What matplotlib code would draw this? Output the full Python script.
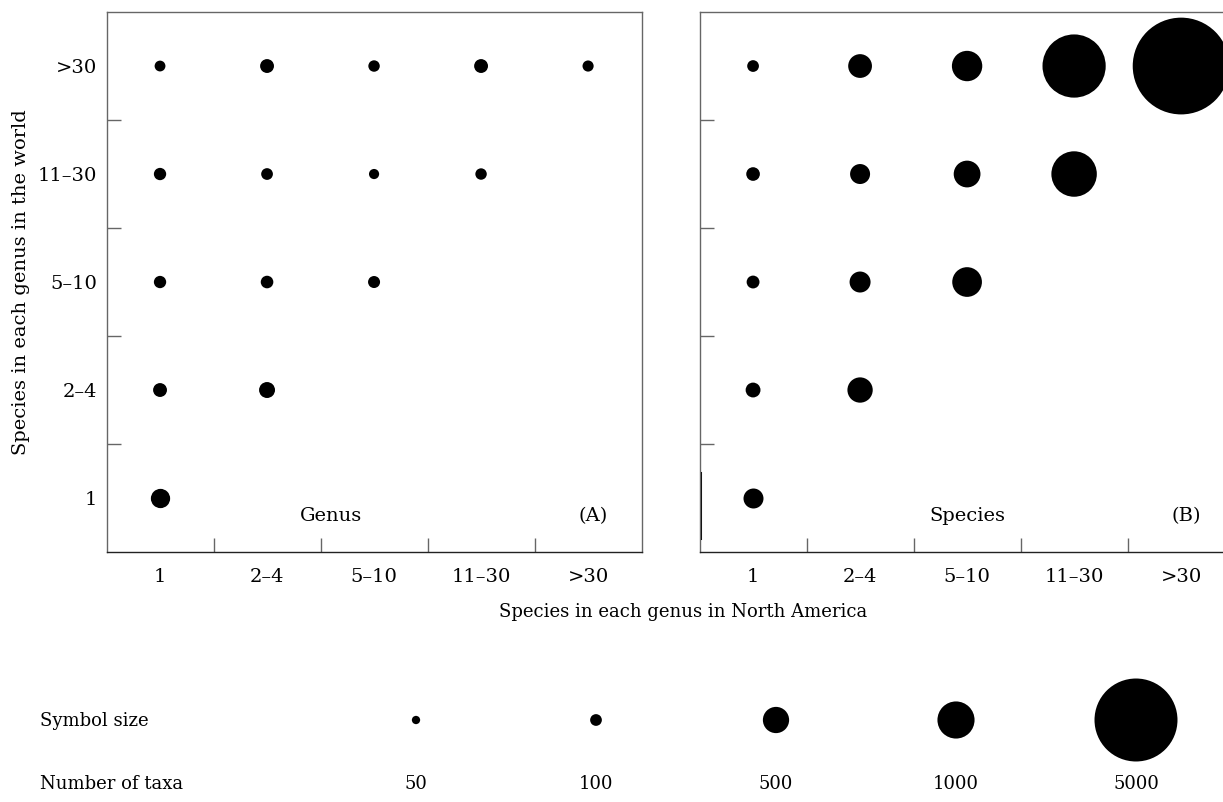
import numpy as np
import matplotlib
matplotlib.use('Agg')
import matplotlib.pyplot as plt
from matplotlib.transforms import blended_transform_factory

plt.rcParams['font.family'] = ['DejaVu Serif']

categories = ['1', '2–4', '5–10', '11–30', '>30']

# number of taxa, one list per world class (row), indexed by North America class
genus_taxa = [[270],
              [140, 185],
              [110, 115, 105],
              [110, 100, 75, 95],
              [85, 140, 95, 140, 90]]
species_taxa = [[290],
                [160, 465],
                [120, 320, 640],
                [135, 290, 520, 1500],
                [100, 410, 670, 2900, 6800]]

legend_taxa = [50, 100, 500, 1000, 5000]

SIZE_SCALE = 0.714  # points^2 per taxon (marker area proportional to count)
FS = 14
SPINE = '#666666'

fig = plt.figure(figsize=(12.23, 8.02), dpi=100)
axA = fig.add_axes([0.0871, 0.3117, 0.4375, 0.6733])
axB = fig.add_axes([0.5720, 0.3117, 0.4375, 0.6733])


def panel(ax, taxa, name, tag, name_x):
    for yi, row in enumerate(taxa):
        xs = np.arange(len(row))
        ax.scatter(xs, np.full(len(row), yi), s=np.array(row) * SIZE_SCALE,
                   color='black', linewidths=0, zorder=3, clip_on=False)
    ax.set_xlim(-0.5, 4.5)
    ax.set_ylim(-0.5, 4.5)
    # tick marks sit on the class boundaries, labels on the class centres
    ax.set_xticks(np.arange(0.5, 4.5, 1.0))
    ax.set_yticks(np.arange(0.5, 4.5, 1.0))
    ax.set_xticks(np.arange(5), minor=True)
    ax.set_yticks(np.arange(5), minor=True)
    ax.set_xticklabels([])
    ax.set_yticklabels([])
    ax.tick_params(which='major', direction='in', length=10, width=1, color=SPINE)
    ax.tick_params(which='minor', length=0, labelsize=FS, pad=11.5)
    ax.set_xticklabels(categories, minor=True)
    for s in ax.spines.values():
        s.set_color(SPINE)
        s.set_linewidth(1)
    ax.spines['bottom'].set_color('#222222')
    ax.text(name_x, -0.17, name, ha='center', va='center', fontsize=FS)
    ax.text(4.05, -0.17, tag, ha='center', va='center', fontsize=FS)


panel(axA, genus_taxa, 'Genus', '(A)', 1.6)
panel(axB, species_taxa, 'Species', '(B)', 2.0)

axA.set_yticklabels(categories, minor=True)
axA.tick_params(axis='y', which='minor', pad=6.5)
axA.set_ylabel('Species in each genus in the world', fontsize=FS, labelpad=6)

# dark mark on the left spine of panel B
axB.axvline(-0.5, ymin=0.026, ymax=0.146, color='black', lw=2.2)

fig.text(683 / 1223, 1 - 612 / 802, 'Species in each genus in North America',
         ha='center', va='center', fontsize=13)

# symbol size key
axL = fig.add_axes([326 / 1223, 1 - 780 / 802, 900 / 1223, 120 / 802])
axL.set_xlim(-0.5, 4.5)
axL.set_ylim(-1, 1)
axL.axis('off')
axL.scatter(np.arange(len(legend_taxa)), np.zeros(len(legend_taxa)),
            s=np.array(legend_taxa) * SIZE_SCALE, color='black', linewidths=0,
            clip_on=False)
tr = blended_transform_factory(axL.transData, fig.transFigure)
for i, n in enumerate(legend_taxa):
    axL.text(i, 1 - 784 / 802, str(n), transform=tr, ha='center', va='center',
             fontsize=13)
fig.text(40 / 1223, 1 - 721 / 802, 'Symbol size', ha='left', va='center', fontsize=13)
fig.text(40 / 1223, 1 - 784 / 802, 'Number of taxa', ha='left', va='center', fontsize=13)

fig.savefig('out.png', dpi=100)
